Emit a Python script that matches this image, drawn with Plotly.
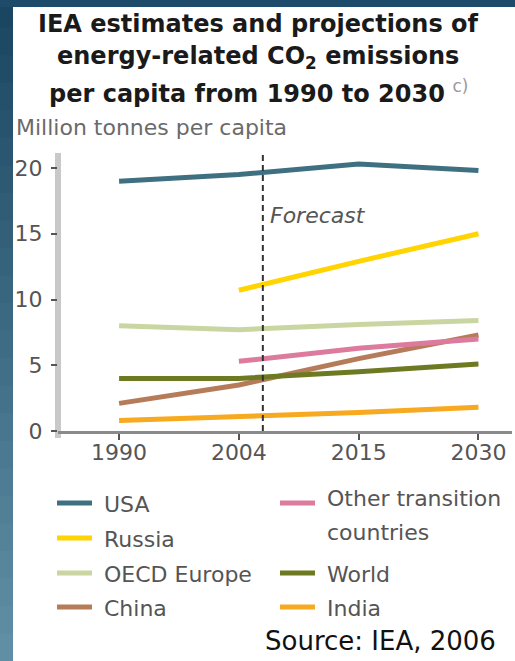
import plotly.graph_objects as go

# ---- data -------------------------------------------------------------
years = ["1990", "2004", "2015", "2030"]

usa = [19.0, 19.5, 20.3, 19.8]
russia = [None, 10.7, 12.9, 15.0]
oecd_europe = [8.0, 7.7, 8.1, 8.4]
china = [2.1, 3.5, 5.5, 7.3]
other_transition = [None, 5.3, 6.3, 7.0]
world = [4.0, 4.0, 4.5, 5.1]
india = [0.8, 1.1, 1.4, 1.8]

y_ticks = [0, 5, 10, 15, 20]
forecast_start = 1.2  # position on the category axis, just after 2004

series = [
    ("USA", usa, "#3f7081"),
    ("Russia", russia, "#ffd400"),
    ("OECD Europe", oecd_europe, "#c9d6a2"),
    ("China", china, "#b67c5a"),
    ("Other transition countries", other_transition, "#dc7b9d"),
    ("World", world, "#6e7a22"),
    ("India", india, "#f7a920"),
]

# ---- page geometry (pixels) ----------------------------------------------
W, H = 515, 661
L, R, T, B = 58, 512, 153, 431


def px(x):
    return (x - L) / (R - L)


def py(y):
    return (B - y) / (B - T)


FONT = "DejaVu Sans"

fig = go.Figure()
for name, vals, color in series:
    fig.add_trace(go.Scatter(
        x=years, y=vals, name=name, mode="lines",
        line=dict(color=color, width=5), showlegend=False,
        connectgaps=False,
    ))

shapes = []

# blue frame: vertical gradient strip on the left and a band along the top
n_bands = 24
top_rgb = (27, 70, 98)
bot_rgb = (96, 143, 165)
for i in range(n_bands):
    f = i / (n_bands - 1)
    c = tuple(round(a + (b - a) * f) for a, b in zip(top_rgb, bot_rgb))
    y0 = H * i / n_bands
    y1 = H * (i + 1) / n_bands + 1
    shapes.append(dict(type="rect", xref="paper", yref="paper",
                       x0=px(0), x1=px(13), y0=py(y1), y1=py(y0),
                       fillcolor="rgb(%d,%d,%d)" % c, line=dict(width=0),
                       layer="below"))
shapes.append(dict(type="rect", xref="paper", yref="paper",
                   x0=px(0), x1=px(W), y0=py(7), y1=py(0),
                   fillcolor="#1e4b69", line=dict(width=0), layer="below"))

# thick light-grey value axis bar
shapes.append(dict(type="line", xref="paper", yref="paper",
                   x0=0, x1=0, y0=py(438), y1=1,
                   line=dict(color="#c9c9c9", width=6), layer="below"))

# forecast divider
shapes.append(dict(type="line", xref="x", yref="paper",
                   x0=forecast_start, x1=forecast_start, y0=0, y1=1,
                   line=dict(color="#333333", width=2, dash="6px,4px")))

annotations = []

# title, one annotation per line
title_lines = [
    "<b>IEA estimates and projections of</b>",
    "<b>energy-related CO<sub>2</sub> emissions</b>",
    "<b>per capita from 1990 to 2030</b> <span style='color:#9a9a9a'><sup>c)</sup></span>",
]
for txt, yc in zip(title_lines, [24, 58, 92]):
    annotations.append(dict(text=txt, xref="paper", yref="paper",
                            x=px(258), y=py(yc), xanchor="center", yanchor="middle",
                            showarrow=False,
                            font=dict(family=FONT, size=24, color="#1a1a1a")))

annotations.append(dict(text="Million tonnes per capita", xref="paper", yref="paper",
                        x=px(14), y=py(128), xanchor="left", yanchor="middle",
                        showarrow=False, font=dict(family=FONT, size=22, color="#6a6a6a")))

annotations.append(dict(text="<i>Forecast</i>", xref="x", yref="y",
                        x=forecast_start + 0.04, y=16.4, xanchor="left", yanchor="middle",
                        showarrow=False, font=dict(family=FONT, size=22, color="#555555")))

# legend laid out in two columns: (swatch x, swatch y, [(text line, text y), ...])
legend_pos = {
    "USA": (57, 503, [("USA", 504)]),
    "Russia": (57, 538, [("Russia", 539)]),
    "OECD Europe": (57, 573, [("OECD Europe", 574)]),
    "China": (57, 607, [("China", 608)]),
    "Other transition countries": (280, 503, [("Other transition", 498),
                                               ("countries", 532)]),
    "World": (280, 573, [("World", 574)]),
    "India": (280, 607, [("India", 608)]),
}
for name, vals, color in series:
    x0, ys, lines = legend_pos[name]
    shapes.append(dict(type="line", xref="paper", yref="paper",
                       x0=px(x0), x1=px(x0 + 35), y0=py(ys), y1=py(ys),
                       line=dict(color=color, width=5)))
    for txt, yt in lines:
        annotations.append(dict(text=txt, xref="paper", yref="paper",
                                x=px(x0 + 45), y=py(yt), xanchor="left", yanchor="middle",
                                align="left", showarrow=False,
                                font=dict(family=FONT, size=22, color="#555555")))

annotations.append(dict(text="Source: IEA, 2006", xref="paper", yref="paper",
                        x=px(380), y=py(641), xanchor="center", yanchor="middle",
                        showarrow=False, font=dict(family=FONT, size=26, color="#111111")))

fig.update_layout(
    width=W, height=H,
    margin=dict(l=L, r=W - R, t=T, b=H - B, pad=0),
    paper_bgcolor="white", plot_bgcolor="white",
    shapes=shapes, annotations=annotations,
    xaxis=dict(type="category", range=[-0.51, 3.28], showgrid=False, zeroline=False,
               showline=True, linecolor="#8a8a8a", linewidth=3,
               ticks="outside", ticklen=6, tickwidth=2, tickcolor="#555555",
               ticklabelstandoff=-6,
               tickfont=dict(family=FONT, size=22, color="#555555")),
    yaxis=dict(range=[0, 21.14], tickvals=y_ticks, showgrid=False, zeroline=False,
               showline=False, ticks="outside", ticklen=6, tickwidth=2,
               tickcolor="#555555", ticklabelstandoff=4,
               tickfont=dict(family=FONT, size=22, color="#555555")),
)

fig.write_html("out.html")
